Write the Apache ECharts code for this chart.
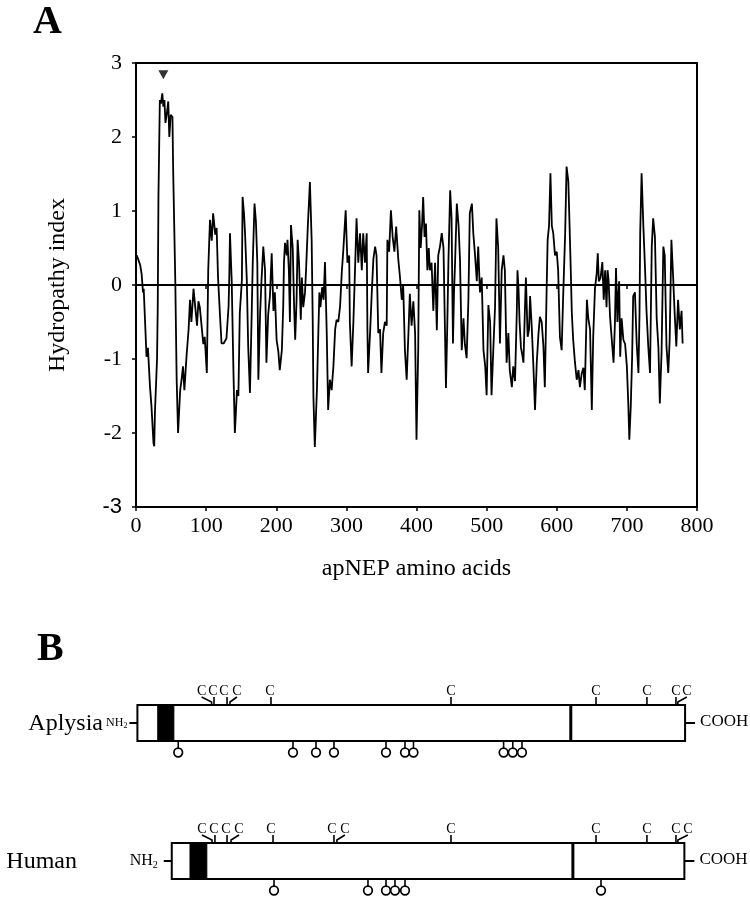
<!DOCTYPE html>
<html><head><meta charset="utf-8">
<script src="https://cdn.jsdelivr.net/npm/echarts@6/dist/echarts.min.js"></script>
<style>html,body{margin:0;padding:0;background:#fff}#c{width:750px;height:900px}</style>
</head><body><div id="c"></div>
<script>
// ---------- Panel A data: hydropathy profile of apNEP ----------
const aminoAcidPos = [1,3,6,8,10,11,13,15,17,20,22,25,26,27,30,31,32,34,35.5,37.5,39,40.5,42,44,46,47.5,49.5,52,53,56,58,60,63,65,67,69,72,75,77,79,82,84,87,89,91,94,96,98,101,103,105.5,108,110,113,115,117,120,122,125,127,129,132,133,134,136.5,139,141,144,146,148,151,152,154,155.5,158,160,162.5,165,166.5,169,171,173,174.5,177,179,181.5,184,186,188.5,191,193.5,196,198,200.5,203,205,208,210,211,212.5,215,216,218,219.5,221,223.5,225.5,227,229,230.5,232.5,235,236.5,238.5,241,242.5,245,248,250.5,252,253,255,258,260,261.5,263,265.5,267.5,269.5,272,274,276.5,279,281.5,284,286,288.5,291,293.5,295.5,299,301.5,304,305,307.5,310,312,314.5,317,319.5,322,324,326.5,329,330,331,334,336,338.5,341,343,345.5,348,350,352.5,355,357.5,358.5,361,363.5,366,368.5,371,374,376.5,379,381,383.5,386,388.5,390.5,393,395.5,398,400,402.5,404,406,408,409.5,411.5,413.5,415.5,417.5,419,421.5,424,426.5,429,431,433.5,436,438.5,441,442,444,445.5,448,450,452,453.5,455,457.5,460,462,464.5,467,469,471.5,474,476,479,481,483.5,486,488,490.5,493,495.5,498,500,502.5,505,507,509.5,512,514,516.5,519,521.5,524,526,528.5,531,533,536,538,540.5,543,544,545.5,547,549,551,552.5,555,556,558.5,560.5,562,564.5,566.5,569,571.5,574,576,578.5,581,583,585.5,587,589,591,593,595,597.5,600,602,604.5,607,609,612,614,616.5,618,620,621.5,623.5,626,628.5,631,633,635.5,638,640,643,645,647.5,650,652,654.5,657,658.5,660,662.5,665,667,669,671,672.5,674,676,678.5,681,683,684.5,686.5,688,689,690.5,692.5,695,697.5,700,702,703.5,705.5,707.5,709,711.5,714,716.5,718,719,721,723.5,726,728,730.5,733,735.5,737.5,740,742.5,745,747,749.5,752,754,756.5,759,761,763.5,766,768,770.5,773,775.5,778,779.5];
const hydropathy = [0.4,0.35,0.27,0.15,-0.1,-0.05,-0.51,-0.97,-0.85,-1.38,-1.63,-2.14,-2.18,-1.72,-1.0,-0.3,1.19,2.5,2.45,2.59,2.41,2.5,2.19,2.32,2.48,2.0,2.3,2.27,1.55,0.07,-1.28,-2.0,-1.42,-1.28,-1.1,-1.42,-0.97,-0.6,-0.2,-0.5,-0.05,-0.03,-0.55,-0.22,-0.3,-0.6,-0.8,-0.7,-1.19,0.2,0.88,0.6,0.97,0.68,0.77,0.1,-0.45,-0.79,-0.79,-0.77,-0.72,-0.29,0.1,0.7,0.05,-1.19,-2.0,-1.42,-1.5,-0.38,0.07,1.19,0.97,0.7,0.07,-0.83,-1.46,-0.38,0.3,1.1,0.86,0.3,-1.28,-0.38,0.07,0.52,0.2,-1.05,-0.4,-0.15,0.43,-0.35,-0.1,-0.74,-0.9,-1.15,-0.88,-0.27,0.3,0.57,0.4,0.61,0.2,-0.5,0.81,0.5,-0.3,-0.74,-0.2,0.61,0.3,-0.47,0.1,-0.3,-0.1,0.2,0.79,1.39,0.6,-0.47,-1.51,-2.19,-1.42,-0.65,-0.1,-0.3,-0.03,-0.2,0.31,-0.65,-1.69,-1.28,-1.42,-1.1,-0.6,-0.47,-0.5,-0.29,0.18,0.45,1.01,0.3,0.4,-0.51,-1.1,-0.5,0.1,0.9,0.3,0.7,0.2,0.7,0.3,0.7,-0.6,-1.19,-0.6,-0.15,0.35,0.52,0.4,-0.65,-0.6,-1.19,-0.65,-0.5,-0.55,0.61,0.45,1.01,0.65,0.45,0.79,0.35,0.1,-0.2,0.0,-0.88,-1.28,-0.65,-0.12,-0.55,-0.22,-0.65,-2.09,-0.85,1.01,0.5,0.83,1.19,0.65,0.83,0.2,0.5,0.2,0.3,-0.35,0.3,-0.61,0.4,0.52,0.7,0.5,-0.83,-1.39,-0.5,0.3,1.28,0.9,-0.79,-0.1,0.3,1.1,0.8,0.35,-0.88,-0.45,-0.8,-0.99,-0.2,0.97,1.1,0.7,0.4,0.05,0.52,-0.1,0.1,-0.88,-1.1,-1.49,-0.27,-0.5,-1.49,-0.88,-0.3,0.9,0.5,-0.79,0.2,0.4,0.2,-1.05,-0.65,-1.15,-1.38,-1.1,-1.3,-0.38,0.2,-0.05,-0.5,-0.85,-0.95,-1.05,-0.2,0.1,-0.7,-0.6,-0.15,-0.6,-1.05,-1.69,-1.05,-0.65,-0.43,-0.5,-0.83,-1.38,-0.1,0.61,0.8,1.51,0.8,0.7,0.4,0.45,0.2,-0.7,-0.88,-0.2,0.7,1.6,1.4,0.9,0.2,-0.38,-0.75,-1.05,-1.28,-1.15,-1.38,-1.2,-1.12,-1.42,-0.2,-0.45,-0.6,-1.69,-0.7,-0.05,0.16,0.43,0.05,0.1,0.31,-0.2,0.2,-0.3,0.2,0.05,-0.43,-0.74,-1.05,-0.5,0.23,-0.5,-0.1,0.05,-0.97,-0.45,-0.74,-0.8,-1.1,-1.6,-2.09,-1.65,-0.97,-0.15,-0.1,-0.79,-1.19,-0.4,0.7,1.51,0.8,0.2,-0.35,-0.83,-1.19,0.52,0.9,0.65,-0.45,-0.85,-1.6,-0.9,0.52,0.4,-0.83,-1.19,-0.75,0.61,0.1,-0.35,-0.83,-0.2,-0.6,-0.35,-0.79];
const xTickValues = [0,100,200,300,400,500,600,700,800];
const yTickValues = [-3,-2,-1,0,1,2,3];
const peakMarker = [39, 2.84];   // arrowhead above the hydrophobic signal/anchor peak

// ---------- Panel B data: domain maps (positions on the same residue scale) ----------
const speciesNames = ['Aplysia', 'Human'];
const domainStart = [2, 51];
const anchorStart = [31, 77];
const anchorEnd = [54, 101];
const hingePos = [620, 623];
const domainEnd = [783, 782];
const aplysiaCys = [107.8,111.2,129.8,134.0,192.5,449.2,656,728.6,770,772.7];
const humanCys = [108.4,112.6,129.8,135.5,195.4,282.3,286.5,449.2,656,728.6,770,772.7];
const aplysiaGlyco = [60.2,223.9,256.7,282.3,356.5,383.6,395.7,524.2,537.3,550.4];
const humanGlyco = [196.8,330.8,356.5,369.3,383.6,663.1];
// label offsets (px) for the 'C' letters where stems are crowded (layout only)
const aplysiaCysLabelShift = [-10,-1,-3,7,-1,0,0,0,0,9];
const humanCysLabelShift = [-10,-1,-1,8,-2,-2,8,0,0,0,0,10];

const SERIF = '"Liberation Serif","Times New Roman",serif';
const SANS = '"Liberation Sans",Arial,sans-serif';
const HALF = 18; // half box height in px
const NH_FONT = [12, 16];
const NH_GAP = [10, 14];

const chart = echarts.init(document.getElementById('c'), null, {renderer:'canvas'});

function renderRow(params, api) {
  const r = api.value(0);
  const s = api.coord([api.value(1), r]);
  const t1 = api.coord([api.value(2), r]);
  const t2 = api.coord([api.value(3), r]);
  const h = api.coord([api.value(4), r]);
  const e = api.coord([api.value(5), r]);
  const cy = s[1];
  const fs = NH_FONT[r];
  return {type:'group', children:[
    {type:'line', shape:{x1:s[0]-8,y1:cy,x2:s[0],y2:cy}, style:{stroke:'#000',lineWidth:2}},
    {type:'line', shape:{x1:e[0],y1:cy,x2:e[0]+10,y2:cy}, style:{stroke:'#000',lineWidth:2}},
    {type:'rect', shape:{x:s[0],y:cy-HALF,width:e[0]-s[0],height:2*HALF}, style:{fill:'#fff',stroke:'#000',lineWidth:2}},
    {type:'rect', shape:{x:t1[0],y:cy-HALF,width:t2[0]-t1[0],height:2*HALF}, style:{fill:'#000',stroke:'#000',lineWidth:1}},
    {type:'line', shape:{x1:h[0],y1:cy-HALF,x2:h[0],y2:cy+HALF}, style:{stroke:'#000',lineWidth:3}},
    {type:'text', x:s[0]-NH_GAP[r], y:cy, style:{text:'{a|NH}{b|2}', align:'right', verticalAlign:'middle',
      rich:{a:{fontFamily:SERIF,fontSize:fs,fill:'#000',verticalAlign:'middle',lineHeight:fs+2},
            b:{fontFamily:SERIF,fontSize:Math.round(fs*0.65),fill:'#000',verticalAlign:'bottom',lineHeight:fs+2,padding:[Math.round(fs*0.55),0,0,0]}}}},
    {type:'text', x:e[0]+15, y:cy-1, style:{text:'COOH', fontFamily:SERIF, fontSize:17, fill:'#000', align:'left', verticalAlign:'middle'}}
  ]};
}

function renderCys(params, api) {
  const p = api.coord([api.value(0), api.value(1)]);
  const dx = api.value(2);
  const top = p[1] - HALF;
  const pts = Math.abs(dx) > 3
    ? [[p[0], top], [p[0], top-3], [p[0]+dx, top-8]]
    : [[p[0], top], [p[0], top-8]];
  return {type:'group', children:[
    {type:'polyline', shape:{points:pts}, style:{stroke:'#000', lineWidth:1.6, fill:null}},
    {type:'text', x:p[0]+dx, y:top-14, style:{text:'C', fontFamily:SERIF, fontSize:14, fill:'#000', align:'center', verticalAlign:'middle'}}
  ]};
}

function renderGlyco(params, api) {
  const p = api.coord([api.value(0), api.value(1)]);
  const bot = p[1] + HALF;
  return {type:'group', children:[
    {type:'line', shape:{x1:p[0],y1:bot,x2:p[0],y2:bot+7}, style:{stroke:'#000',lineWidth:1.6}},
    {type:'circle', shape:{cx:p[0],cy:bot+11.5,r:4.3}, style:{fill:'#fff',stroke:'#000',lineWidth:1.7}}
  ]};
}

const rowData = speciesNames.map((n,i)=>[i, domainStart[i], anchorStart[i], anchorEnd[i], hingePos[i], domainEnd[i]]);
const cysData = aplysiaCys.map((v,i)=>[v,0,aplysiaCysLabelShift[i]]).concat(humanCys.map((v,i)=>[v,1,humanCysLabelShift[i]]));
const glycoData = aplysiaGlyco.map(v=>[v,0]).concat(humanGlyco.map(v=>[v,1]));

const axisFont = {fontFamily:SERIF, fontSize:22, color:'#000'};

const option = {
  animation:false,
  backgroundColor:'#fff',
  grid:[
    {left:136, right:53, top:63, bottom:393, show:true, borderColor:'#000', borderWidth:2, backgroundColor:'transparent'},
    {left:136, right:53, top:654, bottom:0, show:false}
  ],
  xAxis:[
    {gridIndex:0, type:'value', min:0, max:800, interval:100,
      axisLine:{show:true, onZero:false, lineStyle:{color:'#000', width:2}},
      axisTick:{show:true, length:4, lineStyle:{color:'#000', width:1.5}},
      axisLabel:Object.assign({margin:8, formatter:v=>xTickValues.includes(v)?String(v):''}, axisFont),
      splitLine:{show:false},
      name:'apNEP amino acids', nameLocation:'middle', nameGap:50,
      nameTextStyle:{fontFamily:SERIF, fontSize:24, color:'#000'}},
    {gridIndex:0, type:'value', min:0, max:800, interval:100,
      axisLine:{show:false}, axisTick:{show:true, inside:true, length:4, lineStyle:{color:'#000', width:1.5}},
      axisLabel:{show:false}, splitLine:{show:false}},
    {gridIndex:1, type:'value', min:0, max:800, show:false}
  ],
  yAxis:[
    {gridIndex:0, type:'value', min:-3, max:3, interval:1,
      axisLine:{show:true, onZero:false, lineStyle:{color:'#000', width:2}},
      axisTick:{show:true, length:4, lineStyle:{color:'#000', width:1.5}},
      axisLabel:Object.assign({margin:14,
        formatter:v=>yTickValues.includes(v)?(v===-3?'{s|-3}':String(v)):'',
        rich:{s:{fontFamily:SANS, fontSize:22, color:'#000'}}}, axisFont),
      splitLine:{show:false},
      name:'Hydropathy index', nameLocation:'middle', nameGap:66, nameRotate:90,
      nameTextStyle:{fontFamily:SERIF, fontSize:24, color:'#000'}},
    {gridIndex:0, type:'value', min:-3, max:3, interval:1,
      axisLine:{show:false}, axisTick:{show:true, inside:true, length:4, lineStyle:{color:'#000', width:1.5}},
      axisLabel:{show:false}, splitLine:{show:false}},
    {gridIndex:1, type:'value', min:-0.5, max:1.2826, inverse:true, show:false}
  ],
  graphic:[
    {type:'text', left:33, top:3, style:{text:'A', fontFamily:SERIF, fontSize:40, fontWeight:'bold', fill:'#000'}},
    {type:'text', left:37, top:630, style:{text:'B', fontFamily:SERIF, fontSize:40, fontWeight:'bold', fill:'#000'}},
    {type:'text', right:647, top:712, style:{text:speciesNames[0], fontFamily:SERIF, fontSize:24, fill:'#000'}},
    {type:'text', right:673, top:850, style:{text:speciesNames[1], fontFamily:SERIF, fontSize:24, fill:'#000'}}
  ],
  series:[
    {type:'line', xAxisIndex:0, yAxisIndex:0, showSymbol:false, symbol:'none',
      data:aminoAcidPos.map((x,i)=>[x, hydropathy[i]]),
      lineStyle:{color:'#000', width:1.8}, z:3,
      markLine:{silent:true, symbol:'none', label:{show:false},
        lineStyle:{color:'#000', width:2, type:'solid'}, data:[{yAxis:0}]}},
    {type:'scatter', xAxisIndex:0, yAxisIndex:0, symbol:'triangle', symbolRotate:180, symbolSize:[10,9],
      itemStyle:{color:'#000'}, data:[peakMarker], z:4},
    {type:'custom', xAxisIndex:2, yAxisIndex:2, renderItem:renderRow, data:rowData, z:2},
    {type:'custom', xAxisIndex:2, yAxisIndex:2, renderItem:renderCys, data:cysData, z:3},
    {type:'custom', xAxisIndex:2, yAxisIndex:2, renderItem:renderGlyco, data:glycoData, z:3}
  ]
};
chart.setOption(option);
</script></body></html>
